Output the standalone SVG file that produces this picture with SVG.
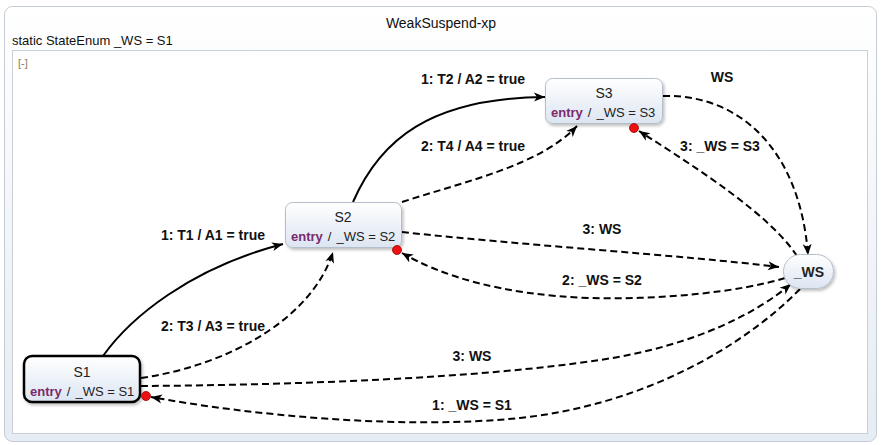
<svg xmlns="http://www.w3.org/2000/svg" width="882" height="445" viewBox="0 0 882 445">
<defs>
<linearGradient id="ng" x1="0" y1="0" x2="0" y2="1">
<stop offset="0" stop-color="#ffffff"/>
<stop offset="1" stop-color="#dce5f2"/>
</linearGradient>
<linearGradient id="fg" x1="0" y1="0" x2="0" y2="1">
<stop offset="0" stop-color="#ffffff"/>
<stop offset="1" stop-color="#e6ecf3"/>
</linearGradient>
<filter id="sh" x="-20%" y="-20%" width="140%" height="150%">
<feDropShadow dx="1.5" dy="2" stdDeviation="1.5" flood-color="#000" flood-opacity="0.25"/>
</filter>
<marker id="ar" markerUnits="userSpaceOnUse" markerWidth="14" markerHeight="12" refX="11" refY="5" orient="auto">
<path d="M0,0.5 L11,5 L0,9.5 L3,5 Z" fill="#000"/>
</marker>
</defs>
<style>
text{font-family:"Liberation Sans",Arial,sans-serif;}
.title{font-size:14px;fill:#111;}
.decl{font-size:13px;fill:#111;}
.node{fill:url(#ng);stroke:#b5bfcc;stroke-width:1;filter:url(#sh);}
.nm{font-size:14px;fill:#222;text-anchor:middle;}
.en{font-size:13px;fill:#222;}
.kw{font-weight:bold;fill:#7a2a6c;}
.lbl{font-size:14px;font-weight:bold;fill:#111;text-anchor:middle;}
.solid{fill:none;stroke:#000;stroke-width:2;}
.dash{fill:none;stroke:#000;stroke-width:2;stroke-dasharray:7,4;}
.dot{fill:#ee1111;stroke:#900;stroke-width:0.8;}
</style>
<g id="frame">
<rect x="4.5" y="6.5" width="872" height="435" rx="8" fill="url(#fg)" stroke="#c4cbd4" stroke-width="1"/>
<rect x="12.5" y="50.5" width="855" height="383" fill="#ffffff" stroke="#c9cfd6" stroke-width="1"/>
<text class="title" x="441" y="28" text-anchor="middle">WeakSuspend-xp</text>
<text class="decl" x="12" y="45">static StateEnum _WS = S1</text>
<text x="18" y="67" font-size="11" fill="#8a7a5a">[-]</text>
</g>
<g id="connectors">
<path class="solid" d="M103,356 C130,318 190,268 283,244" marker-end="url(#ar)"/>
<path class="dash" d="M141,378 C230,365 312,318 333,252" marker-end="url(#ar)"/>
<path class="solid" d="M353,202 C380,140 430,98 545,97" marker-end="url(#ar)"/>
<path class="dash" d="M402,202 C470,180 540,165 577,126" marker-end="url(#ar)"/>
<path class="dash" d="M663,96 C740,94 800,150 808,255" marker-end="url(#ar)"/>
<path class="dash" d="M797,256 C770,215 700,170 639,131" marker-end="url(#ar)"/>
<path class="dash" d="M402,232 C520,245 680,255 779,267" marker-end="url(#ar)"/>
<path class="dash" d="M785,278 C740,292 660,300 590,298 C500,295 440,275 402,253" marker-end="url(#ar)"/>
<path class="dash" d="M141,386 C300,385 480,378 600,360 C700,345 760,310 791,284" marker-end="url(#ar)"/>
<path class="dash" d="M800,289 C740,350 640,405 520,418 C400,430 250,415 151,397" marker-end="url(#ar)"/>
<text class="lbl" x="213" y="240">1: T1 / A1 = true</text>
<text class="lbl" x="213" y="331">2: T3 / A3 = true</text>
<text class="lbl" x="473" y="84">1: T2 / A2 = true</text>
<text class="lbl" x="473" y="151">2: T4 / A4 = true</text>
<text class="lbl" x="722" y="82">WS</text>
<text class="lbl" x="720" y="151">3: _WS = S3</text>
<text class="lbl" x="602" y="234">3: WS</text>
<text class="lbl" x="602" y="285">2: _WS = S2</text>
<text class="lbl" x="472" y="361">3: WS</text>
<text class="lbl" x="472" y="410">1: _WS = S1</text>
</g>
<g id="S1">
<rect x="24" y="356" width="116" height="46" rx="8" fill="url(#ng)" stroke="#000" stroke-width="2.5" filter="url(#sh)"/>
<text class="nm" x="82" y="377">S1</text>
<text class="en" x="30" y="396"><tspan class="kw">entry</tspan><tspan dx="5">/</tspan><tspan dx="5">_WS = S1</tspan></text>
<circle class="dot" cx="146" cy="396" r="4.5"/>
</g>
<g id="S2">
<rect class="node" x="285.5" y="202.5" width="116" height="45" rx="7"/>
<text class="nm" x="343" y="222">S2</text>
<text class="en" x="291" y="241"><tspan class="kw">entry</tspan><tspan dx="5">/</tspan><tspan dx="5">_WS = S2</tspan></text>
<circle class="dot" cx="397" cy="250" r="4.5"/>
</g>
<g id="S3">
<rect class="node" x="545.5" y="78.5" width="117" height="45" rx="7"/>
<text class="nm" x="604" y="98">S3</text>
<text class="en" x="551" y="117"><tspan class="kw">entry</tspan><tspan dx="5">/</tspan><tspan dx="5">_WS = S3</tspan></text>
<circle class="dot" cx="634" cy="128" r="4.5"/>
</g>
<g id="WS">
<rect class="node" x="783.5" y="254.5" width="50" height="34" rx="17"/>
<text x="809" y="277" font-size="14" font-weight="bold" fill="#222" text-anchor="middle">_WS</text>
</g>
</svg>
